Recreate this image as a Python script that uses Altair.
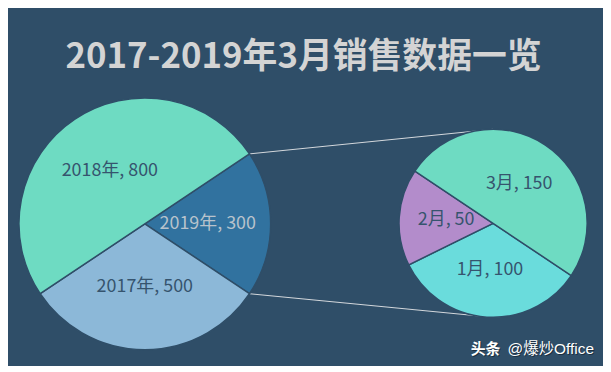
import math
import altair as alt
import pandas as pd

# ---------------- data ----------------
title_text = "2017-2019年3月销售数据一览"
years = ["2019年", "2017年", "2018年"]
year_values = [300, 500, 800]
year_colors = ["#31729F", "#8CB8D8", "#6EDBC2"]
months = ["1月", "2月", "3月"]
month_values = [100, 50, 150]
month_colors = ["#6ADCDC", "#B38CCB", "#6EDBC2"]
watermark_a = "头条"
watermark_b = "@爆炒Office"

# ---------------- layout / style ----------------
BG = "#2F4E68"
DARK_TXT = "#36546E"
LIGHT_TXT = "#B8C3CC"
FONT = "Noto Sans CJK SC"
W, H = 598, 358
C1 = (137.5, 216.0)
R1 = 126.5
C2 = (487.5, 215.5)
R2 = 94.5

total = sum(year_values)
half = math.pi * year_values[0] / total  # half-angle of the exploded slice
start1 = math.pi / 2 - half
start2 = math.pi / 2 + half


def pie(labels, values, colors, center, r, start, light=None):
    df = pd.DataFrame({"label": labels, "value": values, "ord": list(range(len(labels)))})
    base = alt.Chart(df).encode(
        theta=alt.Theta("value:Q", stack=True,
                        scale=alt.Scale(range=[start, start + 2 * math.pi])),
        order=alt.Order("ord:Q"),
        x=alt.value(center[0]),
        y=alt.value(center[1]),
    )
    arcs = base.mark_arc(outerRadius=r, stroke=BG, strokeWidth=1.5).encode(
        color=alt.Color("label:N", scale=alt.Scale(domain=labels, range=colors), legend=None)
    )
    if light is not None:
        tcol = alt.condition(alt.datum.label == light, alt.value(LIGHT_TXT), alt.value(DARK_TXT))
    else:
        tcol = alt.value(DARK_TXT)
    text = base.transform_calculate(
        txt="datum.label + ', ' + datum.value"
    ).mark_text(radius=r * 0.5, font=FONT, fontSize=18, align="center", baseline="middle").encode(
        text="txt:N", detail="label:N", color=tcol
    )
    return alt.layer(arcs, text)


left = pie(years, year_values, year_colors, C1, R1, start1, light="2019年")
right = pie(months, month_values, month_colors, C2, R2, start2)

# connector lines from exploded slice edges to the top / bottom of the second pie
px = C1[0] + R1 * math.cos(half)
lines_df = pd.DataFrame({
    "x": [px, px],
    "y": [C1[1] - R1 * math.sin(half), C1[1] + R1 * math.sin(half)],
    "x2": [C2[0], C2[0]],
    "y2": [C2[1] - R2, C2[1] + R2],
})
lines = alt.Chart(lines_df).mark_rule(color="#D5D9DD", strokeWidth=1).encode(
    x=alt.X("x:Q", scale=None, axis=None),
    y=alt.Y("y:Q", scale=None, axis=None),
    x2="x2:Q",
    y2="y2:Q",
)

title = alt.Chart(pd.DataFrame({"t": [title_text]})).mark_text(
    font=FONT, fontSize=35, fontWeight="bold", color="#D4D4D4",
    align="center", baseline="middle"
).encode(text="t:N", x=alt.value(297), y=alt.value(48))

WM_FONT_B = "Liberation Sans, Noto Sans CJK SC"
wm_df = pd.DataFrame({"a": [watermark_a], "b": [watermark_b]})
wm_shadow_a = alt.Chart(wm_df).mark_text(
    font=FONT, fontSize=15, fontWeight="bold", color="#1C2F40", align="right", baseline="middle"
).encode(text="a:N", x=alt.value(496), y=alt.value(343))
wm_a = alt.Chart(wm_df).mark_text(
    font=FONT, fontSize=15, fontWeight="bold", color="#FFFFFF", align="right", baseline="middle"
).encode(text="a:N", x=alt.value(495), y=alt.value(342))
wm_shadow_b = alt.Chart(wm_df).mark_text(
    font=WM_FONT_B, fontSize=15.5, color="#1C2F40", align="right", baseline="middle"
).encode(text="b:N", x=alt.value(590), y=alt.value(343))
wm_b = alt.Chart(wm_df).mark_text(
    font=WM_FONT_B, fontSize=15.5, color="#FFFFFF", align="right", baseline="middle"
).encode(text="b:N", x=alt.value(589), y=alt.value(342))

chart = alt.layer(
    lines, left, right, title, wm_shadow_a, wm_a, wm_shadow_b, wm_b
).resolve_scale(
    theta="independent", color="independent"
).properties(
    width=W, height=H,
    autosize=alt.AutoSizeParams(type="fit", contains="padding"),
    padding=0,
    background=BG,
).configure_view(stroke=None)

chart.save("out.html", embed_options={"renderer": "svg", "actions": False})
